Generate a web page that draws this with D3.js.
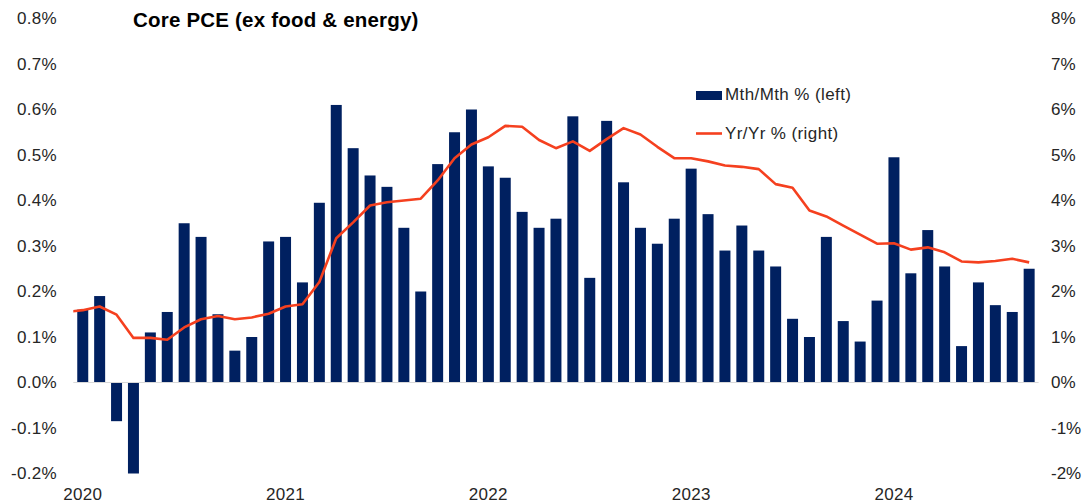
<!DOCTYPE html>
<html>
<head>
<meta charset="utf-8">
<script src="https://cdn.jsdelivr.net/npm/d3@7"></script>
<style>
  body { margin: 0; background: #fff; }
  text { font-family: "Liberation Sans", Arial, sans-serif; }
</style>
</head>
<body>
<div id="chart"></div>
<script>
// monthly categories, Jan 2020 .. Sep 2024
var months = d3.timeMonths(new Date(2020, 0, 1), new Date(2024, 9, 1));

// Mth/Mth % (left axis)
var momValues = [
  0.16, 0.19, -0.085, -0.20, 0.11, 0.155, 0.35, 0.32, 0.15, 0.07, 0.10, 0.31,
  0.32, 0.22, 0.395, 0.61, 0.515, 0.455, 0.43, 0.34, 0.20, 0.48, 0.55, 0.60,
  0.475, 0.45, 0.375, 0.34, 0.36, 0.585, 0.23, 0.575, 0.44, 0.34, 0.305, 0.36,
  0.47, 0.37, 0.29, 0.345, 0.29, 0.255, 0.14, 0.10, 0.32, 0.135, 0.09, 0.18,
  0.495, 0.24, 0.335, 0.255, 0.08, 0.22, 0.17, 0.155, 0.25
];

// Yr/Yr % (right axis); Dec 2019 point runs off the left edge
var yoyDec2019 = 1.55;
var yoyValues = [
  1.59, 1.67, 1.49, 0.98, 0.98, 0.94, 1.21, 1.39, 1.46, 1.39, 1.43, 1.51,
  1.67, 1.72, 2.21, 3.17, 3.52, 3.89, 3.96, 4.00, 4.04, 4.44, 4.93, 5.23,
  5.39, 5.64, 5.62, 5.33, 5.15, 5.30, 5.09, 5.35, 5.59, 5.45, 5.18, 4.93,
  4.93, 4.86, 4.77, 4.74, 4.69, 4.36, 4.28, 3.78, 3.65, 3.45, 3.25, 3.05,
  3.06, 2.92, 2.97, 2.86, 2.66, 2.64, 2.67, 2.72, 2.64
];

var leftTicks = [-0.2, -0.1, 0, 0.1, 0.2, 0.3, 0.4, 0.5, 0.6, 0.7, 0.8];
var rightTicks = [-2, -1, 0, 1, 2, 3, 4, 5, 6, 7, 8];
var yearTicks = [2020, 2021, 2022, 2023, 2024];

var navy = "#002060",
    red = "#f5401f",
    textColor = "#262626";

var W = 1082, H = 504;
var plot = {left: 74.3, right: 1037.6, top: 18.5, bottom: 473.5};

var svg = d3.select("#chart")
  .append("svg")
    .attr("width", W)
    .attr("height", H);

var x = d3.scaleBand()
    .domain(months)
    .range([plot.left, plot.right])
    .paddingInner(0.35)
    .paddingOuter(0.175);

var yL = d3.scaleLinear()
    .domain([-0.2, 0.8])
    .range([plot.bottom, plot.top]);

var yR = d3.scaleLinear()
    .domain([-2, 8])
    .range([plot.bottom, plot.top]);

// line x by month index (so the Dec 2019 point sits one step left)
var xi = function(i) { return x(months[0]) + x.bandwidth() / 2 + i * x.step(); };

svg.append("clipPath")
    .attr("id", "plotclip")
  .append("rect")
    .attr("x", plot.left - 1)
    .attr("y", 0)
    .attr("width", plot.right - plot.left + 2)
    .attr("height", H);

// bars
svg.append("g")
  .selectAll("rect")
  .data(momValues)
  .enter()
  .append("rect")
    .attr("x", function(d, i) { return x(months[i]); })
    .attr("y", function(d) { return yL(Math.max(0, d)); })
    .attr("width", x.bandwidth())
    .attr("height", function(d) { return Math.abs(yL(d) - yL(0)); })
    .style("fill", navy);

// zero line
svg.append("line")
    .attr("x1", plot.left - 1)
    .attr("x2", plot.right + 1)
    .attr("y1", yL(0))
    .attr("y2", yL(0))
    .style("stroke", "#d9d9d9")
    .style("stroke-width", 1);

// yr/yr line
var linePts = [{i: -1, v: yoyDec2019}].concat(yoyValues.map(function(v, i) { return {i: i, v: v}; }));
var line = d3.line()
    .x(function(d) { return xi(d.i); })
    .y(function(d) { return yR(d.v); });

svg.append("path")
    .datum(linePts)
    .attr("clip-path", "url(#plotclip)")
    .attr("d", line)
    .style("fill", "none")
    .style("stroke", red)
    .style("stroke-width", 2.6)
    .style("stroke-linejoin", "round");

// left axis
var gL = svg.append("g")
    .attr("transform", "translate(57,0)")
    .call(d3.axisLeft(yL).tickValues(leftTicks).tickSize(0).tickPadding(0)
      .tickFormat(function(d) { return d.toFixed(1) + "%"; }));

// right axis
var gR = svg.append("g")
    .attr("transform", "translate(1051,0)")
    .call(d3.axisRight(yR).tickValues(rightTicks).tickSize(0).tickPadding(0)
      .tickFormat(function(d) { return d + "%"; }));

// bottom axis (years at January)
var gB = svg.append("g")
    .attr("transform", "translate(0,488)")
    .call(d3.axisBottom(x)
      .tickValues(yearTicks.map(function(y) { return new Date(y, 0, 1); }))
      .tickSize(0).tickPadding(0)
      .tickFormat(d3.timeFormat("%Y")));

[gL, gR, gB].forEach(function(g) {
  g.select(".domain").remove();
  g.selectAll("text")
    .style("font-family", "'Liberation Sans', Arial, sans-serif")
    .style("font-size", "17px")
    .style("letter-spacing", "0.3px")
    .style("fill", textColor);
});
gR.selectAll("text").style("letter-spacing", "0px");

// title
svg.append("text")
    .attr("x", 133)
    .attr("y", 27)
    .text("Core PCE (ex food & energy)")
    .style("font-size", "20.5px")
    .style("font-weight", "bold")
    .style("letter-spacing", "0.2px")
    .style("fill", "#000");

// legend
svg.append("rect")
    .attr("x", 696)
    .attr("y", 91)
    .attr("width", 26)
    .attr("height", 9)
    .style("fill", navy);
svg.append("text")
    .attr("x", 725)
    .attr("y", 100)
    .text("Mth/Mth % (left)")
    .style("font-size", "17px")
    .style("letter-spacing", "0.4px")
    .style("fill", textColor);

svg.append("line")
    .attr("x1", 696)
    .attr("x2", 722)
    .attr("y1", 133.5)
    .attr("y2", 133.5)
    .style("stroke", red)
    .style("stroke-width", 2.6);
svg.append("text")
    .attr("x", 725)
    .attr("y", 139)
    .text("Yr/Yr % (right)")
    .style("font-size", "17px")
    .style("letter-spacing", "0.4px")
    .style("fill", textColor);
</script>
</body>
</html>
